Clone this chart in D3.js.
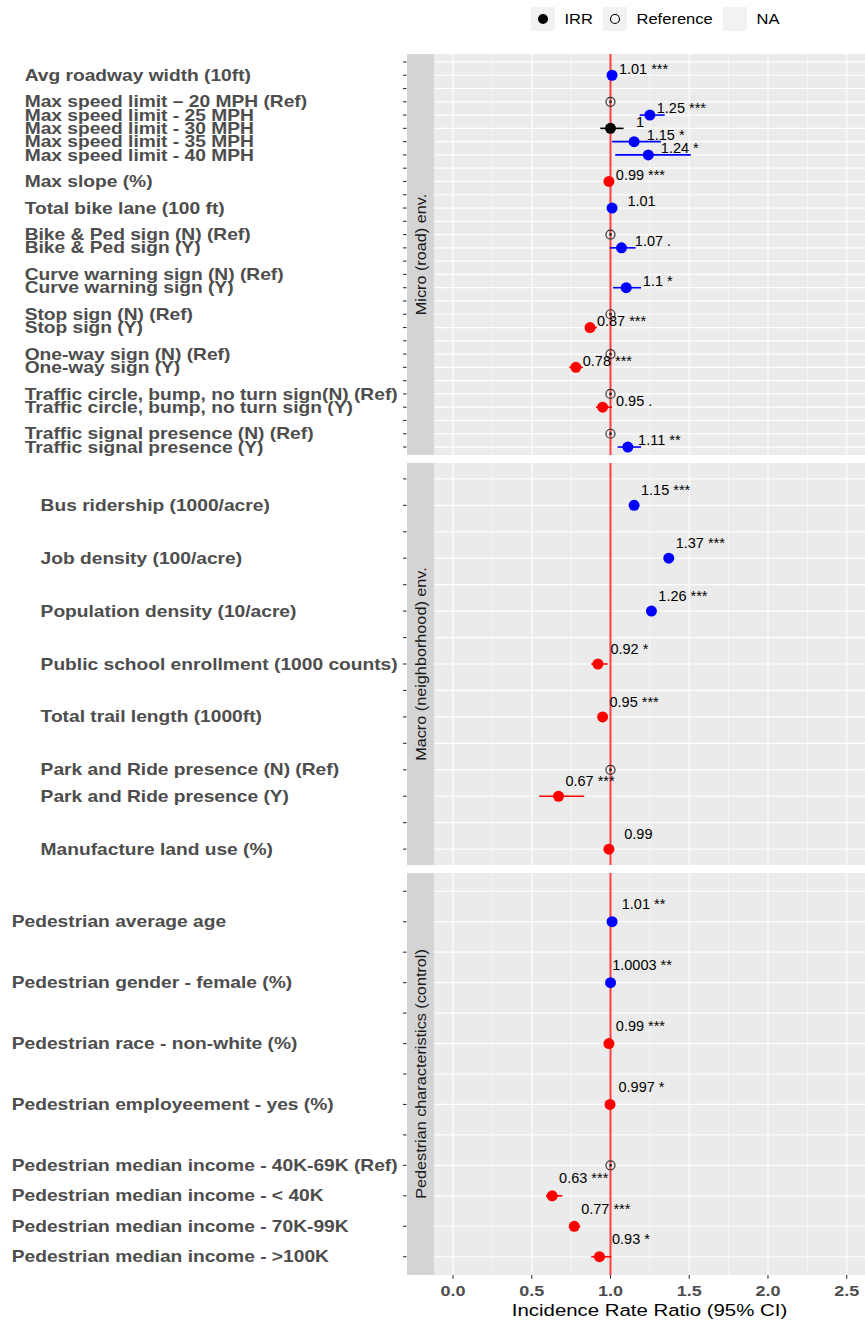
<!DOCTYPE html>
<html>
<head>
<meta charset="utf-8">
<script src="https://cdn.jsdelivr.net/npm/d3@7"></script>
<style>
  body { margin: 0; background: #fff; }
  text { font-family: "Liberation Sans", Arial, Helvetica, sans-serif; }
</style>
</head>
<body>
<div id="chart"></div>
<script>
// ---- data ----
const microLabels = ["", "Avg roadway width (10ft)", "", "Max speed limit \u2013 20 MPH (Ref)",
  "Max speed limit - 25 MPH", "Max speed limit - 30 MPH", "Max speed limit - 35 MPH",
  "Max speed limit - 40 MPH", "", "Max slope (%)", "", "Total bike lane (100 ft)", "",
  "Bike & Ped sign (N) (Ref)", "Bike & Ped sign (Y)", "", "Curve warning sign (N) (Ref)",
  "Curve warning sign (Y)", "", "Stop sign (N) (Ref)", "Stop sign (Y)", "",
  "One-way sign (N) (Ref)", "One-way sign (Y)", "",
  "Traffic circle, bump, no turn sign(N) (Ref)", "Traffic circle, bump, no turn sign (Y)", "",
  "Traffic signal presence (N) (Ref)", "Traffic signal presence (Y)"];
const microIRR = [null, 1.01, null, 1, 1.25, 1, 1.15, 1.24, null, 0.99, null, 1.01, null, 1, 1.07,
  null, null, 1.1, null, 1, 0.87, null, 1, 0.78, null, 1, 0.95, null, 1, 1.11];
const microLow = [null, 1.0, null, null, 1.185, 0.935, 1.01, 1.03, null, 0.98, null, 1.0, null, null, 0.995,
  null, null, 1.016, null, null, 0.84, null, null, 0.738, null, null, 0.908, null, null, 1.045];
const microHigh = [null, 1.02, null, null, 1.344, 1.083, 1.32, 1.51, null, 1.0, null, 1.02, null, null, 1.16,
  null, null, 1.194, null, null, 0.914, null, null, 0.825, null, null, 1.01, null, null, 1.194];
const microSig = ["", "***", "", "ref", "***", "", "*", "*", "", "***", "", "", "", "ref", ".",
  "", "", "*", "", "ref", "***", "", "ref", "***", "", "ref", ".", "", "ref", "**"];

const macroLabels = ["", "Bus ridership (1000/acre)", "", "Job density (100/acre)", "",
  "Population density (10/acre)", "", "Public school enrollment (1000 counts)", "",
  "Total trail length (1000ft)", "", "Park and Ride presence (N) (Ref)",
  "Park and Ride presence (Y)", "", "Manufacture land use (%)"];
const macroIRR = [null, 1.15, null, 1.37, null, 1.26, null, 0.92, null, 0.95, null, 1, 0.67, null, 0.99];
const macroLow = [null, 1.13, null, 1.35, null, 1.24, null, 0.878, null, 0.93, null, null, 0.547, null, 0.98];
const macroHigh = [null, 1.17, null, 1.39, null, 1.28, null, 0.982, null, 0.97, null, null, 0.833, null, 1.0];
const macroSig = ["", "***", "", "***", "", "***", "", "*", "", "***", "", "ref", "***", "", ""];

const pedLabels = ["", "Pedestrian average age", "", "Pedestrian gender - female (%)", "",
  "Pedestrian race - non-white (%)", "", "Pedestrian employeement - yes (%)", "",
  "Pedestrian median income - 40K-69K (Ref)", "Pedestrian median income - < 40K",
  "Pedestrian median income - 70K-99K", "Pedestrian median income - >100K"];
const pedIRR = [null, 1.01, null, 1.0003, null, 0.99, null, 0.997, null, 1, 0.63, 0.77, 0.93];
const pedLow = [null, 1.0, null, 0.999, null, 0.98, null, 0.99, null, null, 0.59, 0.744, 0.878];
const pedHigh = [null, 1.02, null, 1.001, null, 1.0, null, 1.004, null, null, 0.695, 0.808, 1.005];
const pedSig = ["", "**", "", "**", "", "***", "", "*", "", "ref", "***", "***", "*"];

const stripNames = ["Micro (road) env.", "Macro (neighborhood) env.", "Pedestrian characteristics (control)"];
const xTicks = [0, 0.5, 1, 1.5, 2, 2.5];
const xMinor = [0.25, 0.75, 1.25, 1.75, 2.25];
const legendNames = ["IRR", "Reference", "NA"];

// ---- layout ----
const W = 865, H = 1321;
const plotL = 434, plotR = 865, stripL = 407;
const panelY = [[54, 455], [463, 865], [873, 1275]];
const labelNudge = [6.7, 15, 17.7];
const sx = 1.2; // theme text in the reference is drawn wider than Arial

const svg = d3.select("#chart").append("svg")
  .attr("width", W).attr("height", H);

const x = d3.scaleLinear().domain([-0.1206, 2.616]).range([plotL, plotR]);

const panels = [
  [microLabels, microIRR, microLow, microHigh, microSig],
  [macroLabels, macroIRR, macroLow, macroHigh, macroSig],
  [pedLabels, pedIRR, pedLow, pedHigh, pedSig]
];

function colorOf(v) {
  if (v > 1) return "#0000ff";
  if (v < 1) return "#ff0000";
  return "#000000";
}

panels.forEach(function(p, pi) {
  let labels = p[0], irr = p[1], low = p[2], high = p[3], sig = p[4];
  let top = panelY[pi][0], bottom = panelY[pi][1];
  let y = d3.scalePoint().domain(d3.range(labels.length)).range([top, bottom]).padding(0.6);

  let g = svg.append("g");

  // panel background + strip
  g.append("rect").attr("x", plotL).attr("y", top).attr("width", plotR - plotL)
    .attr("height", bottom - top).attr("fill", "#ebebeb");
  g.append("rect").attr("x", stripL).attr("y", top).attr("width", plotL - stripL)
    .attr("height", bottom - top).attr("fill", "#d4d4d4");
  g.append("text")
    .attr("transform", "translate(" + ((stripL + plotL) / 2) + "," + ((top + bottom) / 2) + ") rotate(-90) scale(1.12,1)")
    .attr("text-anchor", "middle").attr("dy", "0.35em")
    .attr("font-size", 14.5).attr("fill", "#1a1a1a")
    .text(stripNames[pi]);

  // grid
  g.selectAll(".minor").data(xMinor).enter().append("line")
    .attr("x1", d => x(d)).attr("x2", d => x(d)).attr("y1", top).attr("y2", bottom)
    .attr("stroke", "#fff").attr("stroke-width", 0.6);
  g.selectAll(".major").data(xTicks).enter().append("line")
    .attr("x1", d => x(d)).attr("x2", d => x(d)).attr("y1", top).attr("y2", bottom)
    .attr("stroke", "#fff").attr("stroke-width", 1.2);
  g.selectAll(".hgrid").data(y.domain()).enter().append("line")
    .attr("x1", plotL).attr("x2", plotR).attr("y1", d => y(d)).attr("y2", d => y(d))
    .attr("stroke", "#fff").attr("stroke-width", 1.2);

  // y ticks (left of strip)
  g.selectAll(".ytick").data(y.domain()).enter().append("line")
    .attr("x1", stripL - 4).attr("x2", stripL - 0.5).attr("y1", d => y(d)).attr("y2", d => y(d))
    .attr("stroke", "#333").attr("stroke-width", 1.1);

  // y labels, left-aligned so the longest one ends near the ticks
  let lab = g.selectAll(".ylab").data(y.domain()).enter().append("text")
    .attr("dy", "0.35em")
    .attr("font-size", 16).attr("font-weight", "bold").attr("fill", "#4d4d4d")
    .text(d => labels[d]);
  let maxW = d3.max(lab.nodes(), n => n.getComputedTextLength()) * sx;
  lab.attr("transform", d => "translate(" + (398 - maxW) + "," + y(d) + ") scale(" + sx + ",1)");

  // reference line
  g.append("line").attr("x1", x(1)).attr("x2", x(1)).attr("y1", top).attr("y2", bottom)
    .attr("stroke", "#ff0000").attr("stroke-opacity", 0.75).attr("stroke-width", 2);

  let rows = y.domain().filter(i => irr[i] !== null);
  let est = rows.filter(i => sig[i] !== "ref");
  let refs = rows.filter(i => sig[i] === "ref");

  // CI bars
  g.selectAll(".ci").data(est).enter().append("line")
    .attr("x1", i => x(low[i])).attr("x2", i => x(high[i]))
    .attr("y1", i => y(i)).attr("y2", i => y(i))
    .attr("stroke", i => colorOf(irr[i])).attr("stroke-width", 1.6);

  // points
  g.selectAll(".pt").data(est).enter().append("circle")
    .attr("cx", i => x(irr[i])).attr("cy", i => y(i)).attr("r", 5.5)
    .attr("fill", i => colorOf(irr[i]));

  // reference markers
  g.selectAll(".ref").data(refs).enter().append("circle")
    .attr("cx", i => x(irr[i])).attr("cy", i => y(i)).attr("r", 4.5)
    .attr("fill", "none").attr("stroke", "#333").attr("stroke-width", 1.2);
  g.selectAll(".refdot").data(refs).enter().append("circle")
    .attr("cx", i => x(irr[i])).attr("cy", i => y(i)).attr("r", 1.4)
    .attr("fill", "#222");

  // value labels
  g.selectAll(".val").data(est).enter().append("text")
    .attr("x", i => x(irr[i] + 0.2)).attr("y", i => y(i) - labelNudge[pi])
    .attr("dy", "0.35em").attr("text-anchor", "middle")
    .style("white-space", "pre")
    .attr("font-size", 14.5).attr("fill", "#000")
    .text(i => irr[i] + " " + sig[i]);
});

// x axis
const axisY = panelY[2][1];
svg.selectAll(".xtick").data(xTicks).enter().append("line")
  .attr("x1", d => x(d)).attr("x2", d => x(d)).attr("y1", axisY).attr("y2", axisY + 3.7)
  .attr("stroke", "#333").attr("stroke-width", 1.1);
svg.selectAll(".xlab").data(xTicks).enter().append("text")
  .attr("transform", d => "translate(" + x(d) + ",1296) scale(" + sx + ",1)")
  .attr("text-anchor", "middle")
  .attr("font-size", 15).attr("font-weight", "bold").attr("fill", "#4d4d4d")
  .text(d => d3.format(".1f")(d));
svg.append("text")
  .attr("transform", "translate(" + ((plotL + plotR) / 2) + ",1316) scale(" + sx + ",1)")
  .attr("text-anchor", "middle")
  .attr("font-size", 17).attr("fill", "#000")
  .text("Incidence Rate Ratio (95% CI)");

// legend
const keyX = [531, 603, 723];
const legend = svg.append("g");
legendNames.forEach(function(name, k) {
  legend.append("rect").attr("x", keyX[k]).attr("y", 7).attr("width", 24).attr("height", 24)
    .attr("fill", "#f2f2f2");
  if (k === 0) {
    legend.append("circle").attr("cx", keyX[k] + 12).attr("cy", 19).attr("r", 5).attr("fill", "#000");
  } else if (k === 1) {
    legend.append("circle").attr("cx", keyX[k] + 12).attr("cy", 19).attr("r", 4.5)
      .attr("fill", "none").attr("stroke", "#000").attr("stroke-width", 1.1);
  }
  legend.append("text")
    .attr("transform", "translate(" + (keyX[k] + 33.5) + ",24) scale(1.14,1)")
    .attr("font-size", 14.5).attr("fill", "#000").text(name);
});
</script>
</body>
</html>
